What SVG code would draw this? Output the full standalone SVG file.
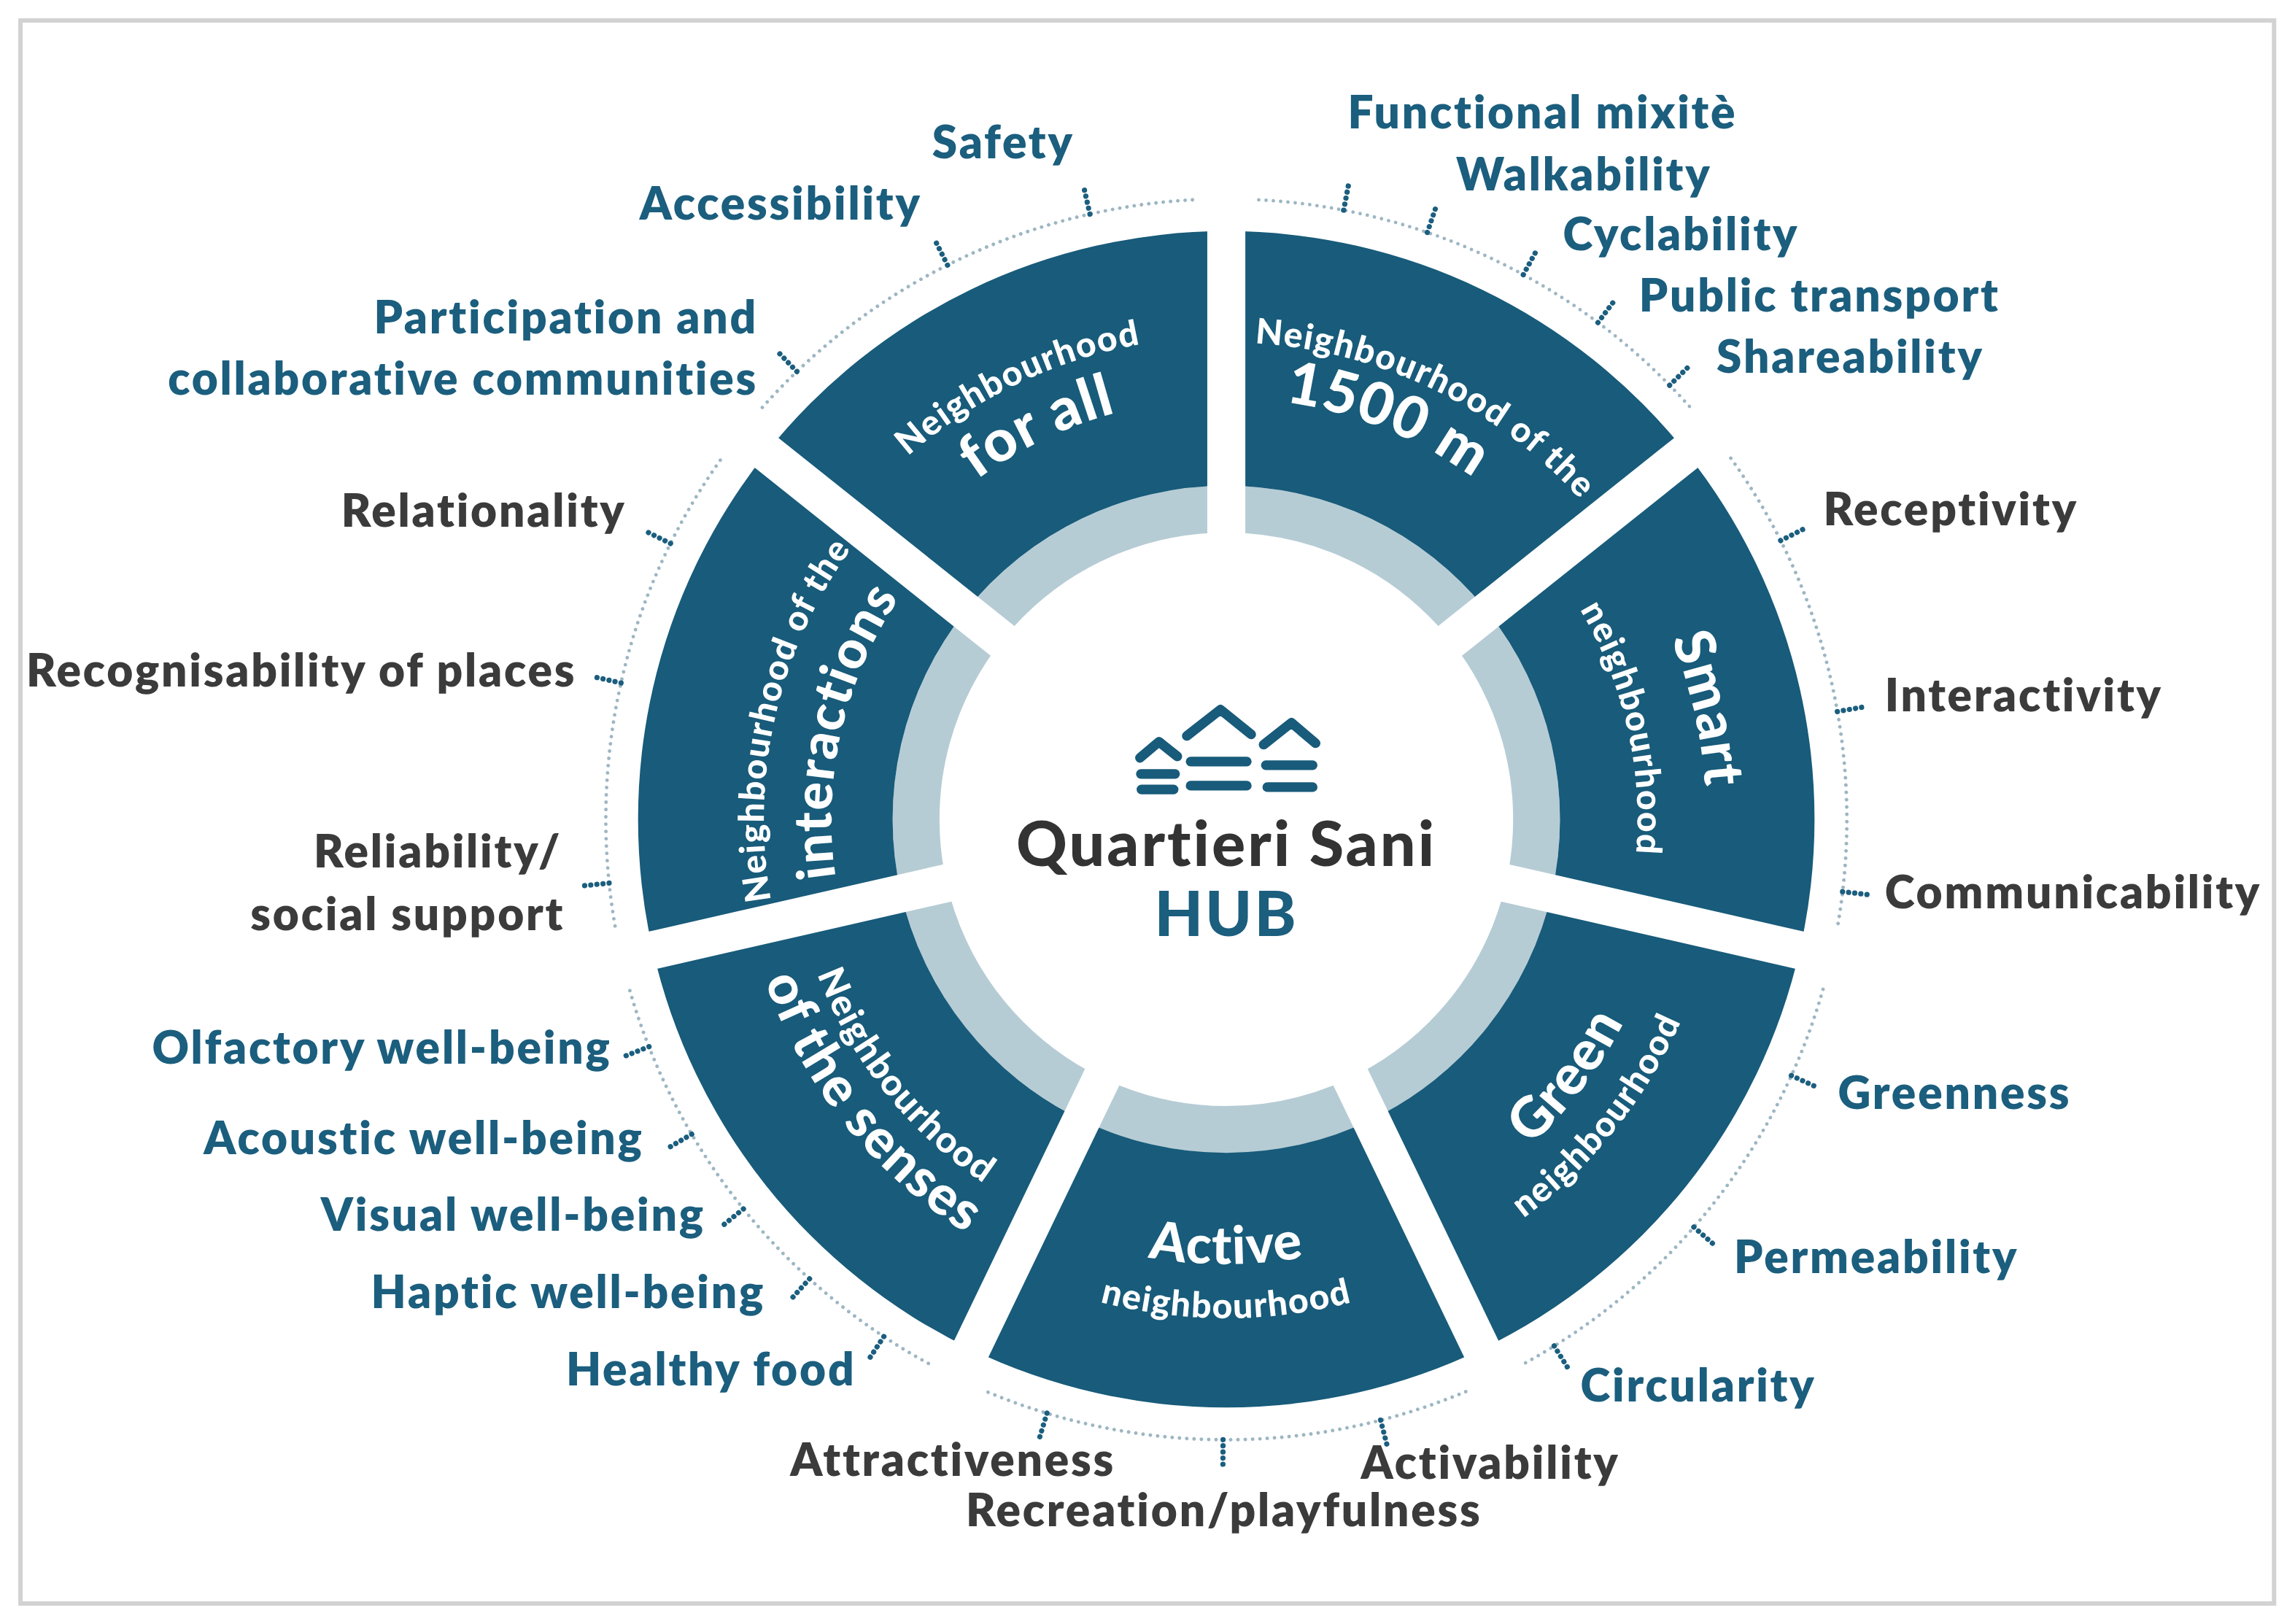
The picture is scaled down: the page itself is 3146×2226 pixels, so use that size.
<svg xmlns="http://www.w3.org/2000/svg" xmlns:xlink="http://www.w3.org/1999/xlink" width="3146" height="2226" viewBox="0 0 3146 2226">
<style>
.seg{fill:#185b7a}
.st{font-family:Lato,"Open Sans",sans-serif;font-weight:900;fill:#fff;letter-spacing:0.8px}
.lb{font-family:Lato,"Open Sans",sans-serif;font-weight:800;font-size:31px;letter-spacing:1.4px}
.bl{fill:#1b5e7e}
.gr{fill:#3b3b3b}
.arc{fill:none;stroke:#9db6c3;stroke-width:2.4;stroke-dasharray:0 5;stroke-linecap:round}
.tk{stroke:#1b5e7e;stroke-width:3.6;stroke-dasharray:0 4.2;stroke-linecap:round}
.gap{stroke:#fff;stroke-width:26}
.logo{fill:none;stroke:#185b7a;stroke-width:6.6;stroke-linecap:round;stroke-linejoin:round}
</style>
<defs>
<path id="arc" d="M838 136 A424 424 0 0 1 1140.1 262.4"/>
<line id="tick" x1="838" y1="136" x2="838" y2="118"/>
<path id="t330" d="M508 560 A330 330 0 0 1 1168 560"/>
<path id="t326" d="M512 560 A326 326 0 0 1 1164 560"/>
<path id="t328" d="M510 560 A328 328 0 0 1 1166 560"/>
<path id="t288" d="M550 560 A288 288 0 0 1 1126 560"/>
<path id="t281" d="M557 560 A281 281 0 0 1 1119 560"/>
<path id="t316" d="M522 560 A316 316 0 0 1 1154 560"/>
<path id="t270" d="M568 560 A270 270 0 0 1 1108 560"/>
<path id="b305" d="M533 560 A305 305 0 0 0 1143 560"/>
<path id="b340" d="M498 560 A340 340 0 0 0 1178 560"/>
<path id="b304" d="M534 560 A304 304 0 0 0 1142 560"/>
<path id="b341" d="M497 560 A341 341 0 0 0 1179 560"/>
<path id="b299" d="M539 560 A299 299 0 0 0 1137 560"/>
<path id="b334" d="M504 560 A334 334 0 0 0 1172 560"/>
</defs>
<rect width="3146" height="2226" fill="#fff"/>
<g transform="scale(2.006 2.0054)">
<rect x="14" y="14" width="1540" height="1082" fill="#fff" stroke="#d2d2d2" stroke-width="3"/>
<circle cx="838" cy="560" r="212" fill="none" stroke="#b6ccd5" stroke-width="32"/>
<g id="seg-1500"><path class="seg" d="M838 158 A402 402 0 0 1 1152.3 309.4 L1016.3 417.8 A228 228 0 0 0 838 332 Z"/>
<text class="st" font-size="24" transform="rotate(25.7 838 560)"><textPath xlink:href="#t326" startOffset="50%" text-anchor="middle">Neighbourhood of the</textPath></text>
<text class="st" font-size="40" transform="rotate(22 838 560)"><textPath xlink:href="#t288" startOffset="50%" text-anchor="middle">1500 m</textPath></text></g>
<g id="seg-smart"><path class="seg" d="M1152.3 309.4 A402 402 0 0 1 1229.9 649.4 L1060.3 610.7 A228 228 0 0 0 1016.3 417.8 Z"/>
<text class="st" font-size="38" transform="rotate(77.1 838 560)"><textPath xlink:href="#t328" startOffset="50%" text-anchor="middle">Smart</textPath></text>
<text class="st" font-size="24" transform="rotate(77.1 838 560)"><textPath xlink:href="#t281" startOffset="50%" text-anchor="middle">neighbourhood</textPath></text></g>
<g id="seg-green"><path class="seg" d="M1229.9 649.4 A402 402 0 0 1 1012.4 922.2 L936.9 765.4 A228 228 0 0 0 1060.3 610.7 Z"/>
<text class="st" font-size="38" transform="rotate(-53 838 560)"><textPath xlink:href="#b305" startOffset="50%" text-anchor="middle">Green</textPath></text>
<text class="st" font-size="24" transform="rotate(-51.4 838 560)"><textPath xlink:href="#b340" startOffset="50%" text-anchor="middle">neighbourhood</textPath></text></g>
<g id="seg-active"><path class="seg" d="M1012.4 922.2 A402 402 0 0 1 663.6 922.2 L739.1 765.4 A228 228 0 0 0 936.9 765.4 Z"/>
<text class="st" font-size="36"><textPath xlink:href="#b304" startOffset="50%" text-anchor="middle">Active</textPath></text>
<text class="st" font-size="24"><textPath xlink:href="#b341" startOffset="50%" text-anchor="middle">neighbourhood</textPath></text></g>
<g id="seg-senses"><path class="seg" d="M663.6 922.2 A402 402 0 0 1 446.1 649.4 L615.7 610.7 A228 228 0 0 0 739.1 765.4 Z"/>
<text class="st" font-size="25" transform="rotate(51.4 838 560)"><textPath xlink:href="#b299" startOffset="50%" text-anchor="middle">Neighbourhood</textPath></text>
<text class="st" font-size="37" transform="rotate(51.4 838 560)"><textPath xlink:href="#b334" startOffset="50%" text-anchor="middle">of the senses</textPath></text></g>
<g id="seg-interactions"><path class="seg" d="M446.1 649.4 A402 402 0 0 1 523.7 309.4 L659.7 417.8 A228 228 0 0 0 615.7 610.7 Z"/>
<text class="st" font-size="24" transform="rotate(-77.1 838 560)"><textPath xlink:href="#t316" startOffset="50%" text-anchor="middle">Neighbourhood of the</textPath></text>
<text class="st" font-size="36" transform="rotate(-77.1 838 560)"><textPath xlink:href="#t270" startOffset="50%" text-anchor="middle">interactions</textPath></text></g>
<g id="seg-forall"><path class="seg" d="M523.7 309.4 A402 402 0 0 1 838 158 L838 332 A228 228 0 0 0 659.7 417.8 Z"/>
<text class="st" font-size="24" transform="rotate(-25.7 838 560)"><textPath xlink:href="#t330" startOffset="50%" text-anchor="middle">Neighbourhood</textPath></text>
<text class="st" font-size="40" transform="rotate(-25.7 838 560)"><textPath xlink:href="#t288" startOffset="50%" text-anchor="middle">for all</textPath></text></g>
<g id="gaps">
<line class="gap" x1="838" y1="370" x2="838" y2="150" transform="rotate(0 838 560)"/>
<line class="gap" x1="838" y1="370" x2="838" y2="150" transform="rotate(51.43 838 560)"/>
<line class="gap" x1="838" y1="370" x2="838" y2="150" transform="rotate(102.86 838 560)"/>
<line class="gap" x1="838" y1="370" x2="838" y2="150" transform="rotate(154.29 838 560)"/>
<line class="gap" x1="838" y1="370" x2="838" y2="150" transform="rotate(205.71 838 560)"/>
<line class="gap" x1="838" y1="370" x2="838" y2="150" transform="rotate(257.14 838 560)"/>
<line class="gap" x1="838" y1="370" x2="838" y2="150" transform="rotate(308.57 838 560)"/>
</g>
<g id="hub">
<path class="logo" d="M779 518 L792 507 L804.5 517 M811 503 L834 485 L855 502 M863.5 509 L882.5 494 L899 508 M779.6 529 H803 M780 539.6 H802 M813.6 520.5 H852 M813.6 537 H852 M865 523 H897 M866 538 H897"/>
<text x="838" y="592" text-anchor="middle" font-family="Lato,'Open Sans',sans-serif" font-weight="900" font-size="43" letter-spacing="1.5" fill="#333">Quartieri Sani</text>
<text x="838" y="640" text-anchor="middle" font-family="Lato,'Open Sans',sans-serif" font-weight="900" font-size="43" letter-spacing="1.5" fill="#1b5e7e">HUB</text>
</g>
<g id="connectors">
<use class="arc" xlink:href="#arc" transform="rotate(3 838 560)"/>
<use class="arc" xlink:href="#arc" transform="rotate(54.4 838 560)"/>
<use class="arc" xlink:href="#arc" transform="rotate(105.9 838 560)"/>
<use class="arc" xlink:href="#arc" transform="rotate(157.3 838 560)"/>
<use class="arc" xlink:href="#arc" transform="rotate(208.7 838 560)"/>
<use class="arc" xlink:href="#arc" transform="rotate(260.1 838 560)"/>
<use class="arc" xlink:href="#arc" transform="rotate(311.6 838 560)"/>
<use class="tk" xlink:href="#tick" transform="rotate(10.9 838 560)"/>
<use class="tk" xlink:href="#tick" transform="rotate(18.9 838 560)"/>
<use class="tk" xlink:href="#tick" transform="rotate(28.6 838 560)"/>
<use class="tk" xlink:href="#tick" transform="rotate(36.8 838 560)"/>
<use class="tk" xlink:href="#tick" transform="rotate(45.6 838 560)"/>
<use class="tk" xlink:href="#tick" transform="rotate(-12.7 838 560)"/>
<use class="tk" xlink:href="#tick" transform="rotate(-26.7 838 560)"/>
<use class="tk" xlink:href="#tick" transform="rotate(-43.8 838 560)"/>
<use class="tk" xlink:href="#tick" transform="rotate(63.3 838 560)"/>
<use class="tk" xlink:href="#tick" transform="rotate(80 838 560)"/>
<use class="tk" xlink:href="#tick" transform="rotate(96.7 838 560)"/>
<use class="tk" xlink:href="#tick" transform="rotate(114.4 838 560)"/>
<use class="tk" xlink:href="#tick" transform="rotate(131.1 838 560)"/>
<use class="tk" xlink:href="#tick" transform="rotate(148.1 838 560)"/>
<use class="tk" xlink:href="#tick" transform="rotate(165.6 838 560)"/>
<use class="tk" xlink:href="#tick" transform="rotate(180.3 838 560)"/>
<use class="tk" xlink:href="#tick" transform="rotate(196.8 838 560)"/>
<use class="tk" xlink:href="#tick" transform="rotate(213.5 838 560)"/>
<use class="tk" xlink:href="#tick" transform="rotate(222.2 838 560)"/>
<use class="tk" xlink:href="#tick" transform="rotate(231.1 838 560)"/>
<use class="tk" xlink:href="#tick" transform="rotate(239.5 838 560)"/>
<use class="tk" xlink:href="#tick" transform="rotate(248.5 838 560)"/>
<use class="tk" xlink:href="#tick" transform="rotate(264.1 838 560)"/>
<use class="tk" xlink:href="#tick" transform="rotate(282.7 838 560)"/>
<use class="tk" xlink:href="#tick" transform="rotate(296.4 838 560)"/>
</g>
<g id="labels" class="lb">
<text class="bl" x="637" y="108">Safety</text>
<text class="bl" x="630" y="150" text-anchor="end">Accessibility</text>
<text class="bl" x="518" y="228" text-anchor="end">Participation and</text>
<text class="bl" x="518" y="270" text-anchor="end">collaborative communities</text>
<text class="bl" x="921" y="88">Functional mixitè</text>
<text class="bl" x="995" y="130">Walkability</text>
<text class="bl" x="1068" y="171">Cyclability</text>
<text class="bl" x="1120" y="213">Public transport</text>
<text class="bl" x="1173" y="255">Shareability</text>
<text class="gr" x="1246" y="359">Receptivity</text>
<text class="gr" x="1288" y="486">Interactivity</text>
<text class="gr" x="1288" y="621">Communicability</text>
<text class="bl" x="1256" y="758">Greenness</text>
<text class="bl" x="1185" y="870">Permeability</text>
<text class="bl" x="1080" y="958">Circularity</text>
<text class="gr" x="930" y="1011">Activability</text>
<text class="gr" x="660" y="1043">Recreation/playfulness</text>
<text class="gr" x="540" y="1009">Attractiveness</text>
<text class="bl" x="585" y="947" text-anchor="end">Healthy food</text>
<text class="bl" x="523" y="894" text-anchor="end">Haptic well-being</text>
<text class="bl" x="482" y="841" text-anchor="end">Visual well-being</text>
<text class="bl" x="440" y="789" text-anchor="end">Acoustic well-being</text>
<text class="bl" x="418" y="727" text-anchor="end">Olfactory well-being</text>
<text class="gr" x="384" y="593" text-anchor="end">Reliability/</text>
<text class="gr" x="386" y="636" text-anchor="end">social support</text>
<text class="gr" x="394" y="469" text-anchor="end">Recognisability of places</text>
<text class="gr" x="428" y="360" text-anchor="end">Relationality</text>
</g>
</g>
</svg>
